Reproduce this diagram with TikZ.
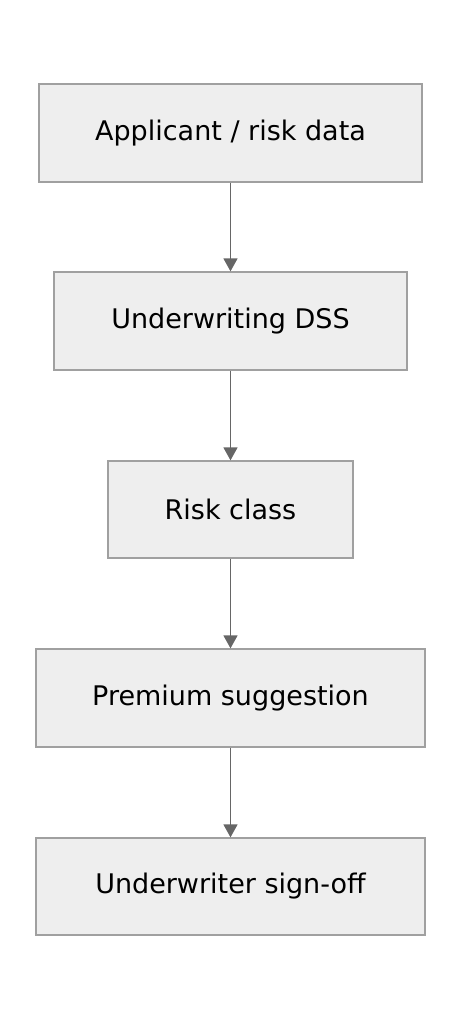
\documentclass[tikz,border=0pt]{standalone}
\usepackage{fontspec}
\setmainfont{DejaVu Sans}
\usetikzlibrary{arrows.meta}
\definecolor{boxfill}{HTML}{EEEEEE}
\definecolor{boxline}{HTML}{A0A0A0}
\definecolor{arrowcol}{HTML}{666666}
\tikzset{
  stepbox/.style={draw=boxline, fill=boxfill, line width=1.3pt, rectangle, inner sep=0pt,
    font=\fontsize{27pt}{32pt}\selectfont, text=black},
  flow/.style={draw=arrowcol, line width=1.5pt, -{Triangle[width=14pt,length=13pt]}}
}
\begin{document}
\begin{tikzpicture}[x=1pt,y=-1pt]
\useasboundingbox (0,0) rectangle (462,1020);
\node[stepbox, minimum width=383pt, minimum height=98pt] (a) at (230.5,133) {Applicant / risk data};
\node[stepbox, minimum width=353pt, minimum height=98pt] (b) at (230.5,321) {Underwriting DSS};
\node[stepbox, minimum width=245pt, minimum height=97pt] (c) at (230.5,509.5) {Risk class};
\node[stepbox, minimum width=389pt, minimum height=98pt] (d) at (230.5,698) {Premium suggestion};
\node[stepbox, minimum width=389pt, minimum height=97pt] (e) at (230.5,886.5) {Underwriter sign-off};
\draw[flow] (a) -- (b);
\draw[flow] (b) -- (c);
\draw[flow] (c) -- (d);
\draw[flow] (d) -- (e);
\end{tikzpicture}
\end{document}
